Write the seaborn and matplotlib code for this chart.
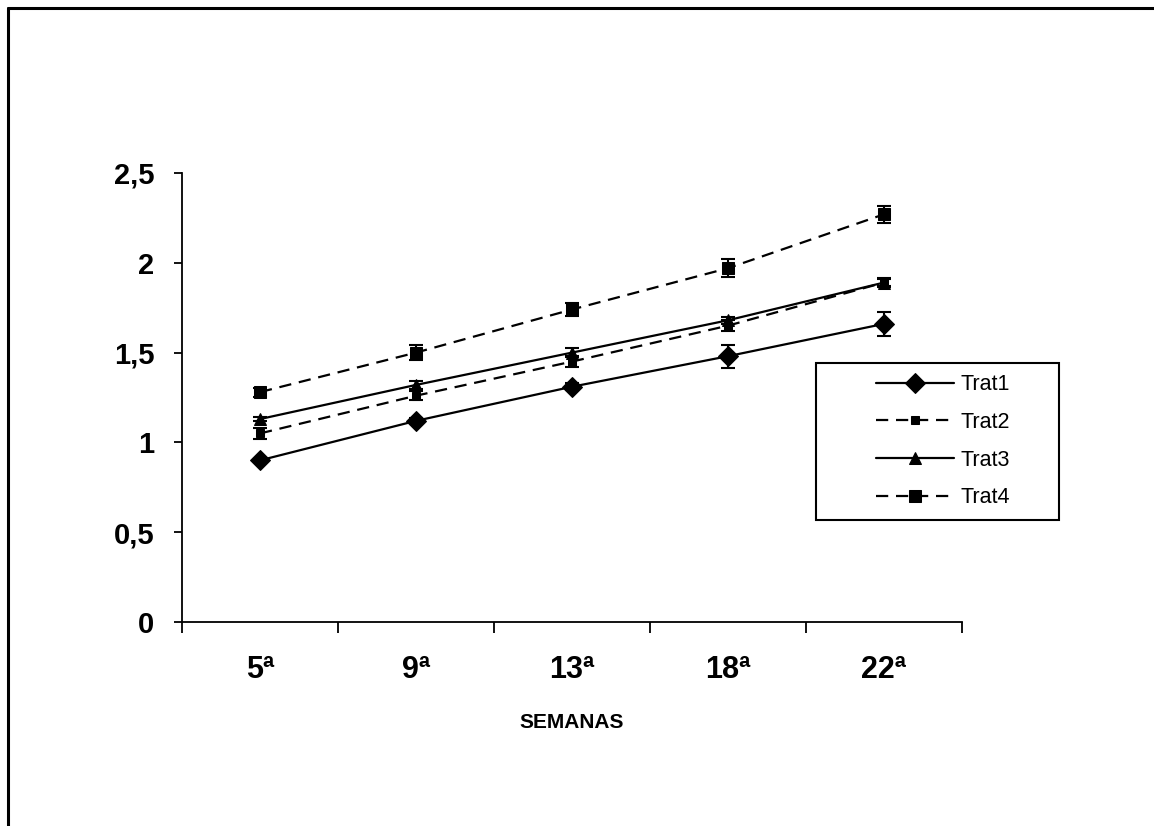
import numpy as np
import pandas as pd
import matplotlib
matplotlib.use('Agg')
import matplotlib.pyplot as plt
from matplotlib.lines import Line2D
from matplotlib.patches import Rectangle
import seaborn as sns

# data
semanas = ['5ª', '9ª', '13ª', '18ª', '22ª']
trat1 = [0.90, 1.12, 1.31, 1.48, 1.66]
trat2 = [1.05, 1.26, 1.45, 1.65, 1.89]
trat3 = [1.13, 1.32, 1.50, 1.68, 1.89]
trat4 = [1.28, 1.50, 1.74, 1.97, 2.27]
err1 = [0.010, 0.015, 0.020, 0.063, 0.067]
err2 = [0.030, 0.025, 0.030, 0.030, 0.020]
err3 = [0.010, 0.020, 0.025, 0.020, 0.025]
err4 = [0.025, 0.040, 0.035, 0.050, 0.046]
y_ticks = [0, 0.5, 1, 1.5, 2, 2.5]
y_labels = ['0', '0,5', '1', '1,5', '2', '2,5']

sns.set_style('ticks')
plt.rcParams['font.family'] = ['Liberation Sans', 'DejaVu Sans']
plt.rcParams['text.color'] = 'black'
plt.rcParams['xtick.color'] = 'black'
plt.rcParams['ytick.color'] = 'black'
plt.rcParams['axes.labelcolor'] = 'black'

fig = plt.figure(figsize=(11.54, 8.26), dpi=100)
ax = fig.add_axes([182/1154, 1-622/826, (962-182)/1154, (622-173)/826])

x = np.arange(len(semanas))
series = [
    ('Trat1', trat1, err1, 'D', 10, '-'),
    ('Trat2', trat2, err2, 's', 6, '--'),
    ('Trat3', trat3, err3, '^', 8, '-'),
    ('Trat4', trat4, err4, 's', 9, '--'),
]
for name, vals, errs, mk, ms, ls in series:
    df = pd.DataFrame({'x': x, 'y': vals})
    sns.lineplot(data=df, x='x', y='y', ax=ax, color='black', linewidth=1.6,
                 linestyle=ls, marker=mk, markersize=ms, markeredgecolor='black',
                 markerfacecolor='black', label=name, zorder=3)
    if ls == '--':
        ax.lines[-1].set_dashes((5.5, 3.5))
    ax.errorbar(x, vals, yerr=errs, fmt='none', ecolor='black', elinewidth=1.5,
                capsize=5, capthick=1.5, zorder=4)

ax.set_xlim(-0.5, 4.5)
ax.set_ylim(0, 2.5)
ax.set_yticks(y_ticks)
ax.set_yticklabels(y_labels, fontsize=21, fontweight='bold')
ax.set_xticks(x)
ax.set_xticklabels(semanas, fontsize=22, fontweight='bold')
ax.set_xticks(np.arange(-0.5, 5, 1), minor=True)
ax.tick_params(axis='x', which='major', length=0, pad=24)
ax.tick_params(axis='x', which='minor', length=8, width=1.3, color='black')
ax.tick_params(axis='y', length=6, width=1.3, color='black', pad=14)
ax.set_xlabel('SEMANAS', fontsize=15, fontweight='bold', labelpad=20)
ax.set_ylabel('')
for side in ['top', 'right']:
    ax.spines[side].set_visible(False)
for side in ['left', 'bottom']:
    ax.spines[side].set_linewidth(1.3)
    ax.spines[side].set_color('black')

# legend: frameless, box drawn separately
leg = ax.legend(loc='upper left', bbox_to_anchor=(857/1154, 1-355/826),
                bbox_transform=fig.transFigure, frameon=False, fontsize=15.5,
                handlelength=3.6, handletextpad=0.3, labelspacing=0.77)
for line in leg.get_lines():
    line.set_linewidth(1.6)
    if line.get_linestyle() == '--':
        line.set_dashes((5.5, 3.5))
fig.patches.append(Rectangle((816/1154, 1-520/826), (1059-816)/1154, (520-363)/826,
                             transform=fig.transFigure, fill=False,
                             edgecolor='black', linewidth=1.5))

# outer chart border (top and left)
fig.lines.append(Line2D([8/1154, 1], [1-8/826, 1-8/826], transform=fig.transFigure,
                        color='black', linewidth=2.2))
fig.lines.append(Line2D([8/1154, 8/1154], [0, 1-8/826], transform=fig.transFigure,
                        color='black', linewidth=2.2))

fig.savefig('out.png', dpi=100)
